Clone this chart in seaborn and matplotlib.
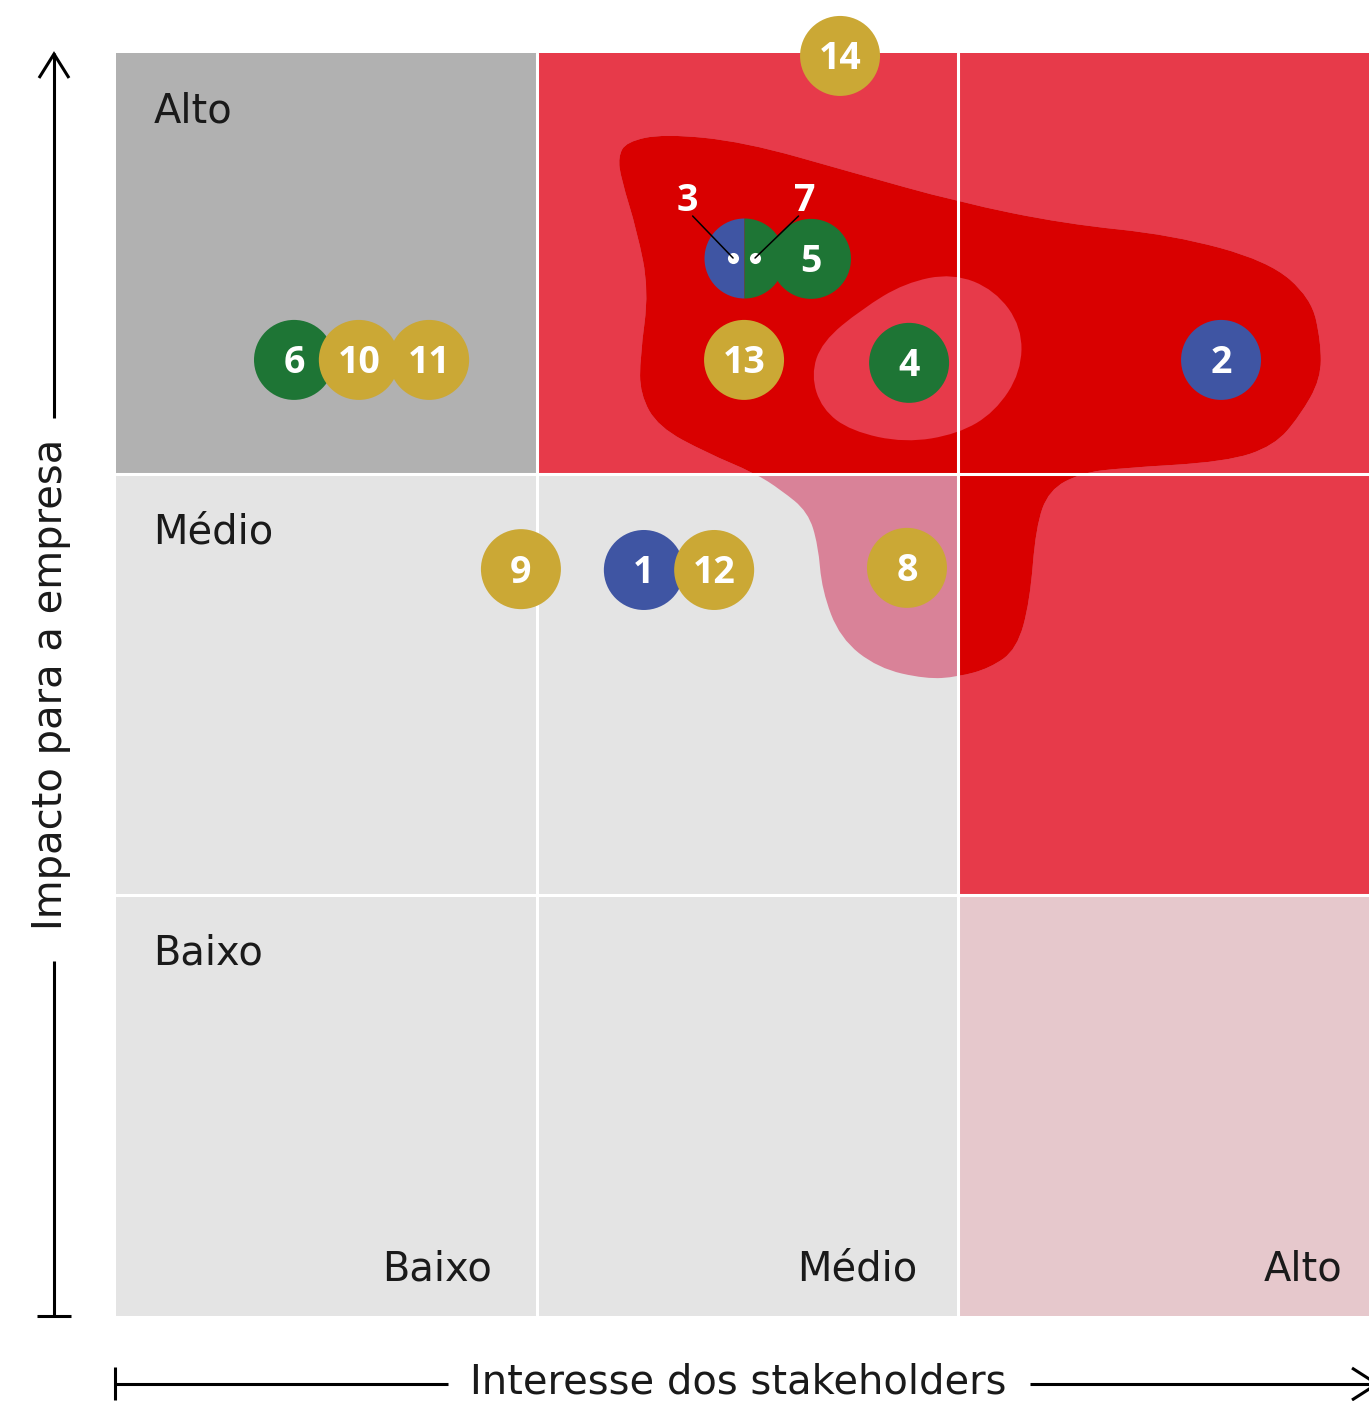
import numpy as np
import pandas as pd
import seaborn as sns
import matplotlib.pyplot as plt
from matplotlib.colors import ListedColormap
from matplotlib.path import Path
from matplotlib.patches import PathPatch, Rectangle
from matplotlib.transforms import offset_copy

# ====== Data ======
# topic number, stakeholder interest (x, 0-3), impact for the company (y, 0-3)
topic_ids = ["14", "5", "6", "10", "11", "13", "4", "2", "9", "1", "12", "8"]
interest = [1.721, 1.652, 0.424, 0.578, 0.745, 1.493, 1.885, 2.626, 0.963, 1.255, 1.422, 1.880]
impact = [2.993, 2.511, 2.271, 2.271, 2.271, 2.271, 2.264, 2.271, 1.774, 1.772, 1.772, 1.777]
groups = ["dourado", "verde", "verde", "dourado", "dourado", "dourado",
          "verde", "azul", "dourado", "azul", "dourado", "dourado"]

# topics 3 and 7 sit on the same spot (half/half circle)
shared_ids = ["3", "7"]
shared_groups = ["azul", "verde"]
shared_interest = 1.493
shared_impact = 2.513

levels = ["Baixo", "Médio", "Alto"]
# zone of each cell, rows = impact (low -> high), cols = interest (low -> high)
zone_grid = [[0, 0, 3],
             [0, 0, 2],
             [1, 2, 2]]

# outline of the priority area and of the lighter hole inside it
blob_x = [1.213, 1.303, 1.493, 1.747, 2.001, 2.255, 2.509, 2.738, 2.840, 2.863,
          2.863, 2.813, 2.752, 2.638, 2.384, 2.293, 2.217, 2.186, 2.172, 2.141,
          2.077, 2.001, 1.925, 1.811, 1.721, 1.678, 1.669, 1.645, 1.581, 1.519,
          1.405, 1.289, 1.246, 1.246, 1.267, 1.239, 1.201, 1.194]
blob_y = [2.789, 2.808, 2.789, 2.717, 2.646, 2.594, 2.568, 2.506, 2.418, 2.314,
          2.226, 2.138, 2.067, 2.029, 2.014, 2.002, 1.962, 1.874, 1.698, 1.584,
          1.539, 1.518, 1.513, 1.539, 1.610, 1.724, 1.831, 1.910, 1.962, 2.002,
          2.050, 2.112, 2.190, 2.278, 2.437, 2.577, 2.701, 2.753]
hole_x = [1.989, 2.089, 2.153, 2.151, 2.089, 2.001, 1.875, 1.747, 1.678, 1.652,
          1.678, 1.773, 1.875]
hole_y = [2.477, 2.437, 2.349, 2.242, 2.147, 2.095, 2.074, 2.102, 2.154, 2.235,
          2.314, 2.392, 2.454]

# ====== Style ======
ZONE_COLORS = ["#e4e4e4", "#b1b1b1", "#e73a4a", "#e6c8cc"]
GROUP_COLORS = {"azul": "#3f55a3", "verde": "#1e7535", "dourado": "#cba835"}
BLOB_DARK = "#d90000"
BLOB_PINK = "#d98298"
TEXT_COLOR = "#1a1a1a"
LABEL_SIZE = 28.8
NUM_SIZE = 27
NUM_FONT = ["Open Sans", "DejaVu Sans"]

sns.set_theme(style="white")
plt.rcParams["font.family"] = ["DejaVu Sans"]

W, H = 1369, 1401
X0_PX, UNIT_PX = 115.5, 421
TOP_PX, BOT_PX = 53, 1316


def smooth_path(xs, ys):
    # closed quadratic b-spline through the outline points
    pts = np.column_stack([xs, ys])
    mids = (pts + np.roll(pts, -1, axis=0)) / 2
    verts = [mids[-1]]
    codes = [Path.MOVETO]
    for i in range(len(pts)):
        verts += [pts[i], mids[i]]
        codes += [Path.CURVE3, Path.CURVE3]
    verts.append(mids[-1])
    codes.append(Path.CLOSEPOLY)
    return Path(verts, codes)


fig = plt.figure(figsize=(W / 100, H / 100), dpi=100)
ax = fig.add_axes([X0_PX / W, (H - BOT_PX) / H, (W - X0_PX) / W, (BOT_PX - TOP_PX) / H])

# === background zones ===
sns.heatmap(np.array(zone_grid), cmap=ListedColormap(ZONE_COLORS), vmin=-0.5, vmax=3.5,
            cbar=False, linewidths=0, xticklabels=False, yticklabels=False, ax=ax)
ax.set_xlim(0, (W - X0_PX) / UNIT_PX)
ax.set_ylim(0, 3)
ax.set_axis_off()

# === priority area ===
blob = smooth_path(blob_x, blob_y)
ax.add_patch(PathPatch(blob, fc=BLOB_PINK, ec="none", zorder=2))
for rx, ry, rw in [(1, 2, 2), (2, 1, 1)]:
    p = PathPatch(blob, fc=BLOB_DARK, ec="none", zorder=2.1)
    ax.add_patch(p)
    p.set_clip_path(Rectangle((rx, ry), rw, 1, transform=ax.transData))
ax.add_patch(PathPatch(smooth_path(hole_x, hole_y), fc=ZONE_COLORS[2], ec="none", zorder=2.2))

for v in (1, 2):
    ax.axvline(v, color="white", lw=2.2, zorder=3)
    ax.axhline(v, color="white", lw=2.2, zorder=3)

# === topics ===
ax.plot([shared_interest], [shared_impact], marker="o", markersize=57.6, fillstyle="left",
        markerfacecolor=GROUP_COLORS[shared_groups[0]],
        markerfacecoloralt=GROUP_COLORS[shared_groups[1]],
        markeredgewidth=0, linestyle="none", zorder=3.5)

df = pd.DataFrame({"id": topic_ids, "interesse": interest, "impacto": impact, "grupo": groups})
sns.scatterplot(data=df, x="interesse", y="impacto", hue="grupo", palette=GROUP_COLORS,
                s=3318, linewidth=0, legend=False, ax=ax, zorder=4, clip_on=False)

half_cap = 0.357 * NUM_SIZE
for _, row in df.iterrows():
    ax.annotate(row["id"], (row["interesse"], row["impacto"]), xytext=(0, -half_cap),
                textcoords="offset points", ha="center", va="baseline", color="white",
                fontsize=NUM_SIZE, fontweight="bold", family=NUM_FONT, zorder=5,
                annotation_clip=False)

# leader lines from the labels 3 / 7 down to their dots
for lbl, dot_dx, txt_off, rel in zip(shared_ids, [-7.9, 7.9], [(-33, 34), (36, 34)],
                                     [(0.75, 0.1), (0.2, 0.1)]):
    tr = offset_copy(ax.transData, fig=fig, x=dot_dx, y=0, units="points")
    ax.plot([shared_interest], [shared_impact], "o", color="white", ms=8, mew=0,
            transform=tr, zorder=5.5)
    ax.annotate(lbl, xy=(shared_interest, shared_impact), xycoords=tr, xytext=txt_off,
                textcoords="offset points", ha="center", va="baseline", color="white",
                fontsize=NUM_SIZE, fontweight="bold", family=NUM_FONT, zorder=6,
                arrowprops=dict(arrowstyle="-", color="black", lw=1.1, relpos=rel,
                                patchA=None, shrinkA=0, shrinkB=0))

# === level labels ===
for i, lvl in enumerate(levels):
    ax.text(0.09, i + 0.835, lvl, ha="left", va="baseline", fontsize=LABEL_SIZE,
            color=TEXT_COLOR, zorder=5)
    ax.text(0.894 + 1.01 * i, 0.085, lvl, ha="right", va="baseline", fontsize=LABEL_SIZE,
            color=TEXT_COLOR, zorder=5)

# === axis arrows (figure pixels) ===
dax = fig.add_axes([0, 0, 1, 1])
dax.set_xlim(0, W)
dax.set_ylim(H, 0)
dax.set_axis_off()
line_kw = dict(color="black", lw=2.2, solid_capstyle="butt", solid_joinstyle="miter")

dax.plot([54, 54], [53, 418], **line_kw)
dax.plot([54, 54], [961, 1316], **line_kw)
dax.plot([37, 71], [1316, 1316], **line_kw)
dax.plot([39, 54, 69], [78, 54, 78], **line_kw)
dax.text(62, 684, "Impacto para a empresa", rotation=90, rotation_mode="anchor",
         ha="center", va="baseline", fontsize=LABEL_SIZE, color=TEXT_COLOR)

dax.plot([115, 448], [1384, 1384], **line_kw)
dax.plot([115, 115], [1367, 1400], **line_kw)
dax.plot([1030, 1378], [1384, 1384], **line_kw)
dax.plot([1352, 1377, 1352], [1368, 1384, 1400], **line_kw)
dax.text(738, 1393, "Interesse dos stakeholders", ha="center", va="baseline",
         fontsize=LABEL_SIZE, color=TEXT_COLOR)

fig.savefig("out.png", dpi=100, facecolor="white")
